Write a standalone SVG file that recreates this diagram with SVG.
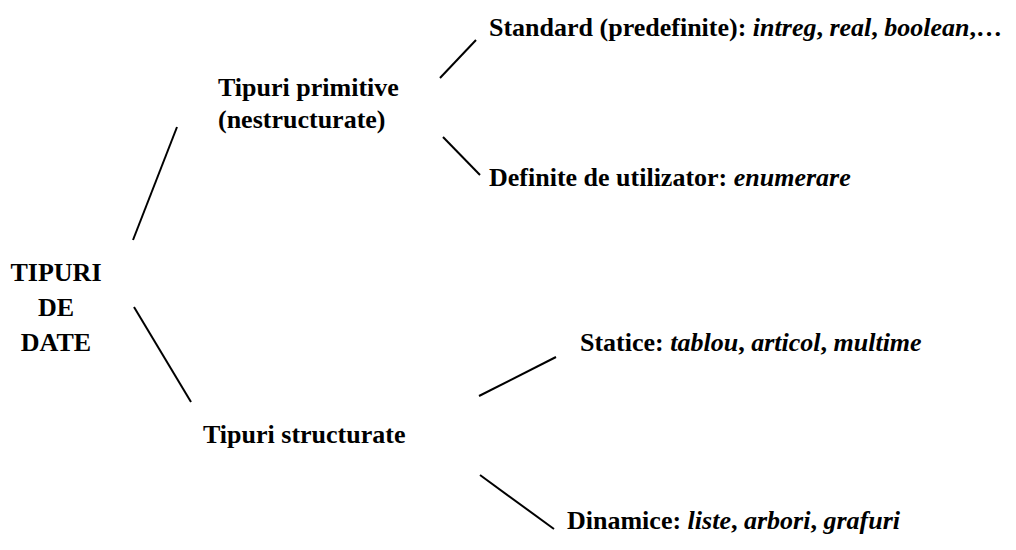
<svg xmlns="http://www.w3.org/2000/svg" width="1016" height="550" viewBox="0 0 1016 550">
<style>
text{font-family:"Liberation Serif","Times New Roman",serif;font-weight:bold;font-size:26px;fill:#000}
.i{font-style:italic}
line{stroke:#000;stroke-width:2}
</style>
<rect width="1016" height="550" fill="#fff"/>
<g id="connectors">
<line x1="133" y1="240" x2="177" y2="127"/>
<line x1="134" y1="307" x2="191" y2="402"/>
<line x1="440" y1="78" x2="476" y2="40"/>
<line x1="443" y1="137" x2="480" y2="175"/>
<line x1="479" y1="396" x2="556" y2="357"/>
<line x1="480" y1="475" x2="554" y2="529"/>
</g>
<g id="root">
<text x="56" y="281" text-anchor="middle">TIPURI</text>
<text x="56" y="316" text-anchor="middle">DE</text>
<text x="56" y="351" text-anchor="middle">DATE</text>
</g>
<g id="primitive">
<text x="218" y="96">Tipuri primitive</text>
<text x="218" y="128">(nestructurate)</text>
</g>
<g id="standard">
<text x="489" y="36">Standard (predefinite): <tspan class="i">intreg</tspan>, <tspan class="i">real</tspan>, <tspan class="i">boolean</tspan>,…</text>
</g>
<g id="definite">
<text x="489" y="186">Definite de utilizator: <tspan class="i">enumerare</tspan></text>
</g>
<g id="structurate">
<text x="203" y="443">Tipuri structurate</text>
</g>
<g id="statice">
<text x="580" y="351">Statice: <tspan class="i">tablou</tspan>, <tspan class="i">articol</tspan>, <tspan class="i">multime</tspan></text>
</g>
<g id="dinamice">
<text x="567" y="529">Dinamice: <tspan class="i">liste</tspan>, <tspan class="i">arbori</tspan>, <tspan class="i">grafuri</tspan></text>
</g>
</svg>
